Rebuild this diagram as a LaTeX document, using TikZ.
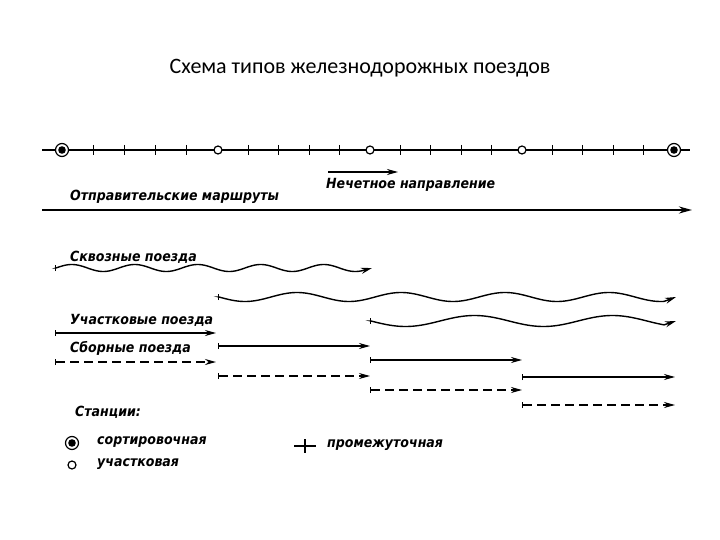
\documentclass[tikz,border=0pt]{standalone}
\usepackage{fontspec}
\setmainfont{Carlito}
\newfontfamily\hand{DejaVu Sans Condensed}
\usetikzlibrary{arrows.meta}
\begin{document}
\begin{tikzpicture}[x=1pt,y=-1pt,
  lbl/.style={font=\hand\bfseries\itshape\fontsize{14}{14}\selectfont,anchor=west,inner sep=0},
  trk/.style={line width=1.4pt,{Bar[width=6pt]}-{Stealth[length=11pt,width=6pt]}},
  dsh/.style={trk,dash pattern=on 9pt off 5pt},
  big/.style={circle,draw,line width=1.2pt,fill=white,minimum size=13pt,inner sep=0},
  small/.style={circle,draw,line width=1.2pt,fill=white,minimum size=8pt,inner sep=0}]
\useasboundingbox (0,0) rectangle (720,540);
\node[font=\fontsize{22}{22}\selectfont] (title) at (360,68) {Схема типов железнодорожных поездов};
% main line
\coordinate (L0) at (42,150); \coordinate (L1) at (690,150);
\draw[line width=2pt] (L0) -- (L1);
\foreach \a/\b in {62/218,218/370,370/522,522/674}
  \foreach \k in {1,...,4} \draw[line width=1.2pt] ({\a+(\b-\a)*\k/5},145) -- ++(0,10);
\node[big] (s1) at (62,150) {};
\node[small] (s2) at (218,150) {};
\node[small] (s3) at (370,150) {};
\node[small] (s4) at (522,150) {};
\node[big] (s5) at (674,150) {};
\fill (s1.center) circle (3.8pt);
\fill (s5.center) circle (3.8pt);
% direction
\coordinate (d0) at (328,172); \coordinate (d1) at (398,172);
\draw[line width=1.6pt,-{Stealth[length=11pt,width=6pt]}] (d0) -- (d1);
\node[lbl] (nd) at (326,185) {Нечетное направление};
\node[lbl] (om) at (70,197) {Отправительские маршруты};
\coordinate (m0) at (42,210); \coordinate (m1) at (692,210);
\draw[line width=2.2pt,-{Stealth[length=13pt,width=7pt]}] (m0) -- (m1);
% through trains
\node[lbl] (sk) at (70,257) {Сквозные поезда};
\draw[trk] (55,268) -- plot[domain=56:362,samples=240,smooth] (\x,{268-3.5*sin((\x-56)/63*360)}) -- (372,268);
\draw[trk] (218,297) -- plot[domain=219:664,samples=300,smooth] (\x,{297+4.5*sin((\x-219)/104*360)}) -- (676,297);
\node[lbl] (uch) at (70,320) {Участковые поезда};
\draw[trk] (370,321) -- plot[domain=371:664,samples=240,smooth] (\x,{321+5.5*sin((\x-371)/138*360)}) -- (676,321);
\coordinate (u0) at (55,333); \coordinate (u1) at (216,333);
\draw[trk] (u0) -- (u1);
\node[lbl] (sb) at (70,348) {Сборные поезда};
\coordinate (c0) at (55,362); \coordinate (c1) at (216,362);
\draw[dsh] (c0) -- (c1);
\coordinate (a0) at (218,346); \coordinate (a1) at (370,346);
\draw[trk] (a0) -- (a1);
\coordinate (a2) at (218,376); \coordinate (a3) at (370,376);
\draw[dsh] (a2) -- (a3);
\coordinate (b0) at (370,360); \coordinate (b1) at (522,360);
\draw[trk] (b0) -- (b1);
\coordinate (b2) at (370,390); \coordinate (b3) at (522,390);
\draw[dsh] (b2) -- (b3);
\coordinate (e0) at (522,377); \coordinate (e1) at (675,377);
\draw[trk] (e0) -- (e1);
\coordinate (e2) at (522,405); \coordinate (e3) at (675,405);
\draw[dsh] (e2) -- (e3);
% legend
\node[lbl] (st) at (75,412) {Станции:};
\node[big] (lb) at (72,443) {};
\fill (lb.center) circle (3.8pt);
\node[lbl,anchor=west] (lbt) at (97,442) {сортировочная};
\node[small] (ls) at (72,465) {};
\node[lbl,anchor=west] (lst) at (97,464) {участковая};
\coordinate (p0) at (294,446); \coordinate (p1) at (316,446);
\draw[line width=1.8pt] (p0) -- (p1);
\coordinate (p2) at (305,439); \coordinate (p3) at (305,453);
\draw[line width=1.6pt] (p2) -- (p3);
\node[lbl] (lpt) at (327,445) {промежуточная};
\end{tikzpicture}
\end{document}
